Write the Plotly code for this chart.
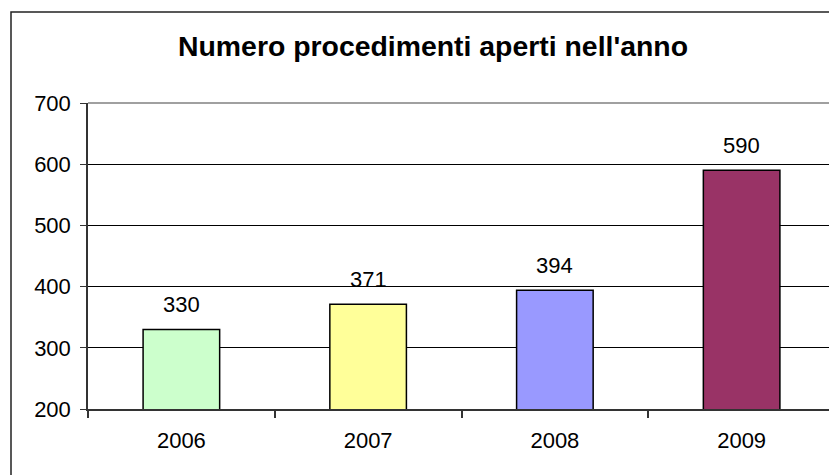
import plotly.graph_objects as go

years = ["2006", "2007", "2008", "2009"]
procedimenti = [330, 371, 394, 590]
bar_colors = ["#CCFFCC", "#FFFF99", "#9999FF", "#993366"]
title_text = "Numero procedimenti aperti nell'anno"
y_ticks = [200, 300, 400, 500, 600, 700]

# the page shows the figure with an 8px offset; sizes below compensate
W, H = 829, 467
L, R, T, B = 80, 2, 95, 66
pw, ph = W - L - R, H - T - B

font_family = "Liberation Sans, Arial, sans-serif"

fig = go.Figure()
fig.add_trace(go.Bar(
    x=years, y=procedimenti, width=0.41,
    marker=dict(color=bar_colors, line=dict(color="#000000", width=1.5)),
    hoverinfo="x+y",
))

for i, v in enumerate(procedimenti):
    fig.add_annotation(x=i, y=v, text=str(v), showarrow=False,
                       yshift=25, yanchor="middle",
                       font=dict(family=font_family, size=22, color="#000000"))

# title
fig.add_annotation(xref="paper", yref="paper",
                   x=(424.5 - L) / pw, y=1 + (T - 38) / ph,
                   text="<b>" + title_text + "</b>", showarrow=False,
                   xanchor="center", yanchor="middle",
                   font=dict(family=font_family, size=28.4, color="#000000"))

# outer chart border (extends beyond right and bottom)
fig.add_shape(type="rect", xref="paper", yref="paper",
              x0=(3 - L) / pw, x1=1.5, y0=-0.6, y1=1 + (T - 4) / ph,
              line=dict(color="#222222", width=1.5), layer="above")
# plot area top & right border (gray)
fig.add_shape(type="line", xref="paper", yref="paper", x0=0, x1=1, y0=1, y1=1,
              line=dict(color="#808080", width=1.5), layer="above")
fig.add_shape(type="line", xref="paper", yref="paper", x0=1, x1=1, y0=0, y1=1,
              line=dict(color="#808080", width=1.5), layer="above")

fig.update_layout(
    width=W, height=H,
    margin=dict(l=L, r=R, t=T, b=B),
    paper_bgcolor="#FFFFFF", plot_bgcolor="#FFFFFF",
    showlegend=False,
    font=dict(family=font_family, size=22, color="#000000"),
)
fig.update_xaxes(
    type="category", range=[-0.5, 3.5], automargin=False,
    showline=True, linecolor="#333333", linewidth=1.5,
    ticks="outside", tickson="boundaries", ticklen=7, tickcolor="#333333",
    tickwidth=1.5, showgrid=False, ticklabelstandoff=11, tickangle=0,
    tickfont=dict(size=22),
)
fig.update_yaxes(
    range=[200, 700], tickvals=y_ticks, automargin=False,
    showline=True, linecolor="#333333",
    linewidth=1.5, ticks="outside", ticklen=6, tickcolor="#333333", tickwidth=1,
    showgrid=True, gridcolor="#000000", gridwidth=1, zeroline=False,
    ticklabelstandoff=5, tickfont=dict(size=22),
)

fig.write_html("out.html")
